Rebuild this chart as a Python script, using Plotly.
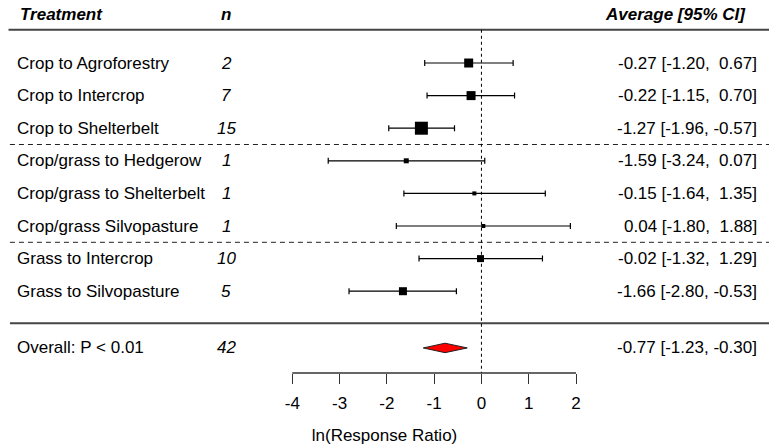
import plotly.graph_objects as go

# ---- data ----
treatments = ["Crop to Agroforestry", "Crop to Intercrop", "Crop to Shelterbelt",
              "Crop/grass to Hedgerow", "Crop/grass to Shelterbelt", "Crop/grass Silvopasture",
              "Grass to Intercrop", "Grass to Silvopasture"]
n_obs = [2, 7, 15, 1, 1, 1, 10, 5]
estimate = [-0.27, -0.22, -1.27, -1.59, -0.15, 0.04, -0.02, -1.66]
ci_low = [-1.20, -1.15, -1.96, -3.24, -1.64, -1.80, -1.32, -2.80]
ci_high = [0.67, 0.70, -0.57, 0.07, 1.35, 1.88, 1.29, -0.53]
overall_label = "Overall: P < 0.01"
overall_n = 42
overall_est = -0.77
overall_low = -1.23
overall_high = -0.30
tick_values = [-4, -3, -2, -1, 0, 1, 2]
tick_labels = ["-4", "-3", "-2", "-1", "0", "1", "2"]

# ---- styles ----
marker_sizes = [9, 9, 13, 5, 4, 4, 7, 8]
FONT = "Liberation Sans, Arial, sans-serif"
FS = 17
rows = list(range(1, len(treatments) + 1))
overall_row = 9.74

fig = go.Figure()

# individual estimates with CIs
fig.add_trace(go.Scatter(
    x=estimate, y=rows, mode="markers",
    marker=dict(symbol="square", size=marker_sizes, color="black", opacity=1,
                line=dict(width=0)),
    error_x=dict(type="data", symmetric=False,
                 array=[h - e for h, e in zip(ci_high, estimate)],
                 arrayminus=[e - l for e, l in zip(estimate, ci_low)],
                 color="black", thickness=1.2, width=3),
    showlegend=False, hoverinfo="skip"))

# overall diamond
dh = 0.145
fig.add_trace(go.Scatter(
    x=[overall_low, overall_est, overall_high, overall_est, overall_low],
    y=[overall_row, overall_row - dh, overall_row, overall_row + dh, overall_row],
    mode="lines", fill="toself", fillcolor="red",
    line=dict(color="#222", width=1), showlegend=False, hoverinfo="skip"))

shapes = []
# header line
shapes.append(dict(type="line", xref="x", yref="y", x0=-10.0, x1=6.08, y0=-0.02, y1=-0.02,
                   line=dict(color="#444", width=2)))
# dashed separators
for yy in [3.5, 6.5]:
    shapes.append(dict(type="line", xref="x", yref="y", x0=-9.97, x1=6.08, y0=yy, y1=yy,
                       line=dict(color="#222", width=1, dash="5px,4px")))
# solid line above overall
shapes.append(dict(type="line", xref="x", yref="y", x0=-9.97, x1=6.08, y0=8.98, y1=8.98,
                   line=dict(color="#444", width=2)))
# vertical reference line at 0
shapes.append(dict(type="line", xref="x", yref="y", x0=0, x1=0, y0=-0.02, y1=10.509,
                   line=dict(color="black", width=1, dash="dot")))
# axis line
shapes.append(dict(type="line", xref="x", yref="paper", x0=min(tick_values), x1=max(tick_values),
                   y0=0, y1=0, line=dict(color="#333", width=1.5)))

ann = []
def add_text(x, y, text, anchor, bold=False, italic=False):
    t = text
    if italic:
        t = "<i>" + t + "</i>"
    if bold:
        t = "<b>" + t + "</b>"
    ann.append(dict(x=x, y=y, xref="x", yref="y", text=t, showarrow=False,
                    xanchor=anchor, yanchor="middle",
                    font=dict(family=FONT, size=FS, color="black")))

# headers
add_text(-9.80, -0.5, "Treatment", "left", bold=True, italic=True)
add_text(-5.40, -0.5, "n", "center", bold=True, italic=True)
add_text(5.63, -0.5, "Average [95% CI]", "right", bold=True, italic=True)

def fmt(v):
    return f"{v:.2f}" if v < 0 else f" {v:.2f}"

for r, t, n, e, lo, hi in zip(rows, treatments, n_obs, estimate, ci_low, ci_high):
    add_text(-9.87, r, t, "left")
    add_text(-5.40, r, str(n), "center", italic=True)
    add_text(5.86, r, f"{e:.2f} [{lo:.2f}, {fmt(hi)}]", "right")

add_text(-9.87, overall_row, overall_label, "left")
add_text(-5.40, overall_row, str(overall_n), "center", italic=True)
add_text(5.86, overall_row, f"{overall_est:.2f} [{overall_low:.2f}, {fmt(overall_high)}]", "right")

fig.update_layout(
    width=769, height=448,
    margin=dict(l=0, r=0, t=0, b=75),
    plot_bgcolor="white", paper_bgcolor="white",
    shapes=shapes, annotations=ann,
    font=dict(family=FONT, size=FS, color="black"),
    xaxis=dict(range=[-10.18, 6.08], tickvals=tick_values, ticktext=tick_labels,
               showgrid=False, zeroline=False, showline=False,
               ticks="outside", ticklen=10, tickwidth=1.2, tickcolor="#333",
               tickfont=dict(family=FONT, size=FS, color="black"),
               ticklabelstandoff=5,
               title=dict(text="ln(Response Ratio)", standoff=16,
                          font=dict(family=FONT, size=FS, color="black"))),
    yaxis=dict(range=[10.509, -0.933], visible=False),
)

fig.write_html("out.html")
